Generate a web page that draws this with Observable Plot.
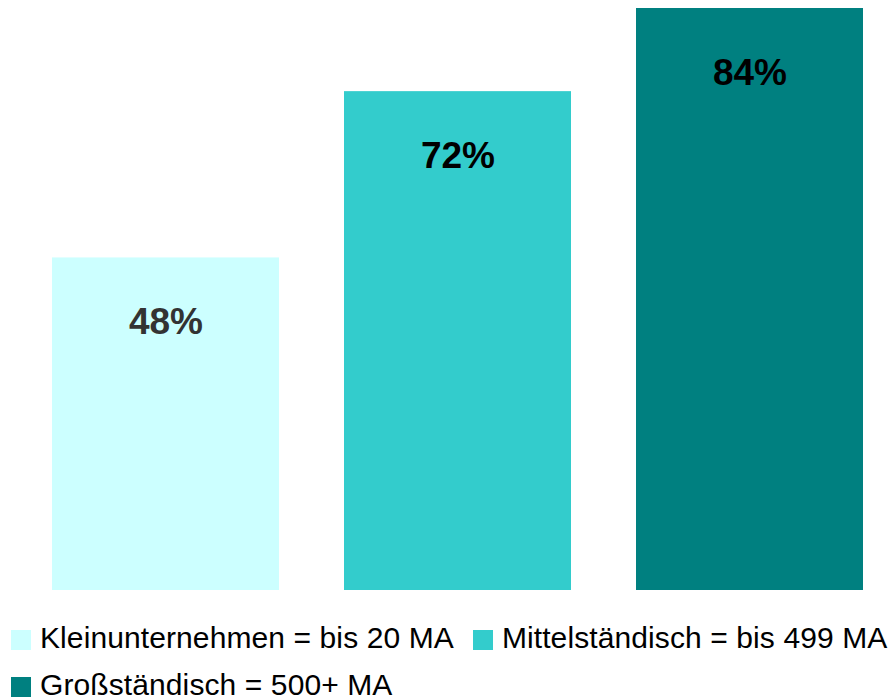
<!DOCTYPE html>
<html>
<head>
<meta charset="utf-8">
<script src="https://cdn.jsdelivr.net/npm/d3@7"></script>
<script src="https://cdn.jsdelivr.net/npm/@observablehq/plot@0.6"></script>
<style>
  html, body { margin: 0; padding: 0; background: #fff; }
  body { width: 888px; font-family: "Liberation Sans", Arial, sans-serif; }
  #legend { padding: 16px 0 0 11px; width: 888px; box-sizing: border-box; }
  .row { display: flex; height: 47px; }
  .item { display: flex; align-items: center; height: 47px; margin-right: 19px; }
  .sw { width: 20px; height: 20px; margin-right: 9px; flex: none; }
  .lbl { font-size: 30px; letter-spacing: 0.1px; color: #000; line-height: 1; position: relative; top: -2px; white-space: nowrap; }
</style>
</head>
<body>
<div id="chart"></div>
<div id="legend"></div>
<script>
const categories = ["Kleinunternehmen = bis 20 MA", "Mittelständisch = bis 499 MA", "Großständisch = 500+ MA"];
const values = [48, 72, 84];
const labels = ["48%", "72%", "84%"];
const colors = ["#ccffff", "#33cccc", "#008080"];
const legendRows = [[0, 1], [2]];

const data = categories.map((c, i) => ({category: c, value: values[i], label: labels[i]}));

const chart = Plot.plot({
  width: 888,
  height: 600,
  marginTop: 8,
  marginBottom: 10,
  marginLeft: 52,
  marginRight: 24,
  style: {fontFamily: "'Liberation Sans', Arial, sans-serif", background: "#fff"},
  x: {domain: categories, paddingInner: 0.2222, paddingOuter: 0, axis: null},
  y: {domain: [0, 84], axis: null},
  color: {domain: categories, range: colors},
  marks: [
    Plot.barY(data, {x: "category", y: "value", fill: "category"}),
    Plot.text(data, {
      x: "category", y: "value", text: "label",
      dy: 64.5, fontSize: 37, fontWeight: "bold",
      fill: (d, i) => i === 0 ? "#333333" : "#000000"
    })
  ]
});
document.getElementById("chart").appendChild(chart);

const legend = document.getElementById("legend");
legendRows.forEach(idx => {
  const row = document.createElement("div");
  row.className = "row";
  idx.forEach(i => {
    const item = document.createElement("div");
    item.className = "item";
    const sw = document.createElement("span");
    sw.className = "sw";
    sw.style.background = colors[i];
    const lbl = document.createElement("span");
    lbl.className = "lbl";
    lbl.textContent = categories[i];
    item.appendChild(sw);
    item.appendChild(lbl);
    row.appendChild(item);
  });
  legend.appendChild(row);
});
</script>
</body>
</html>
